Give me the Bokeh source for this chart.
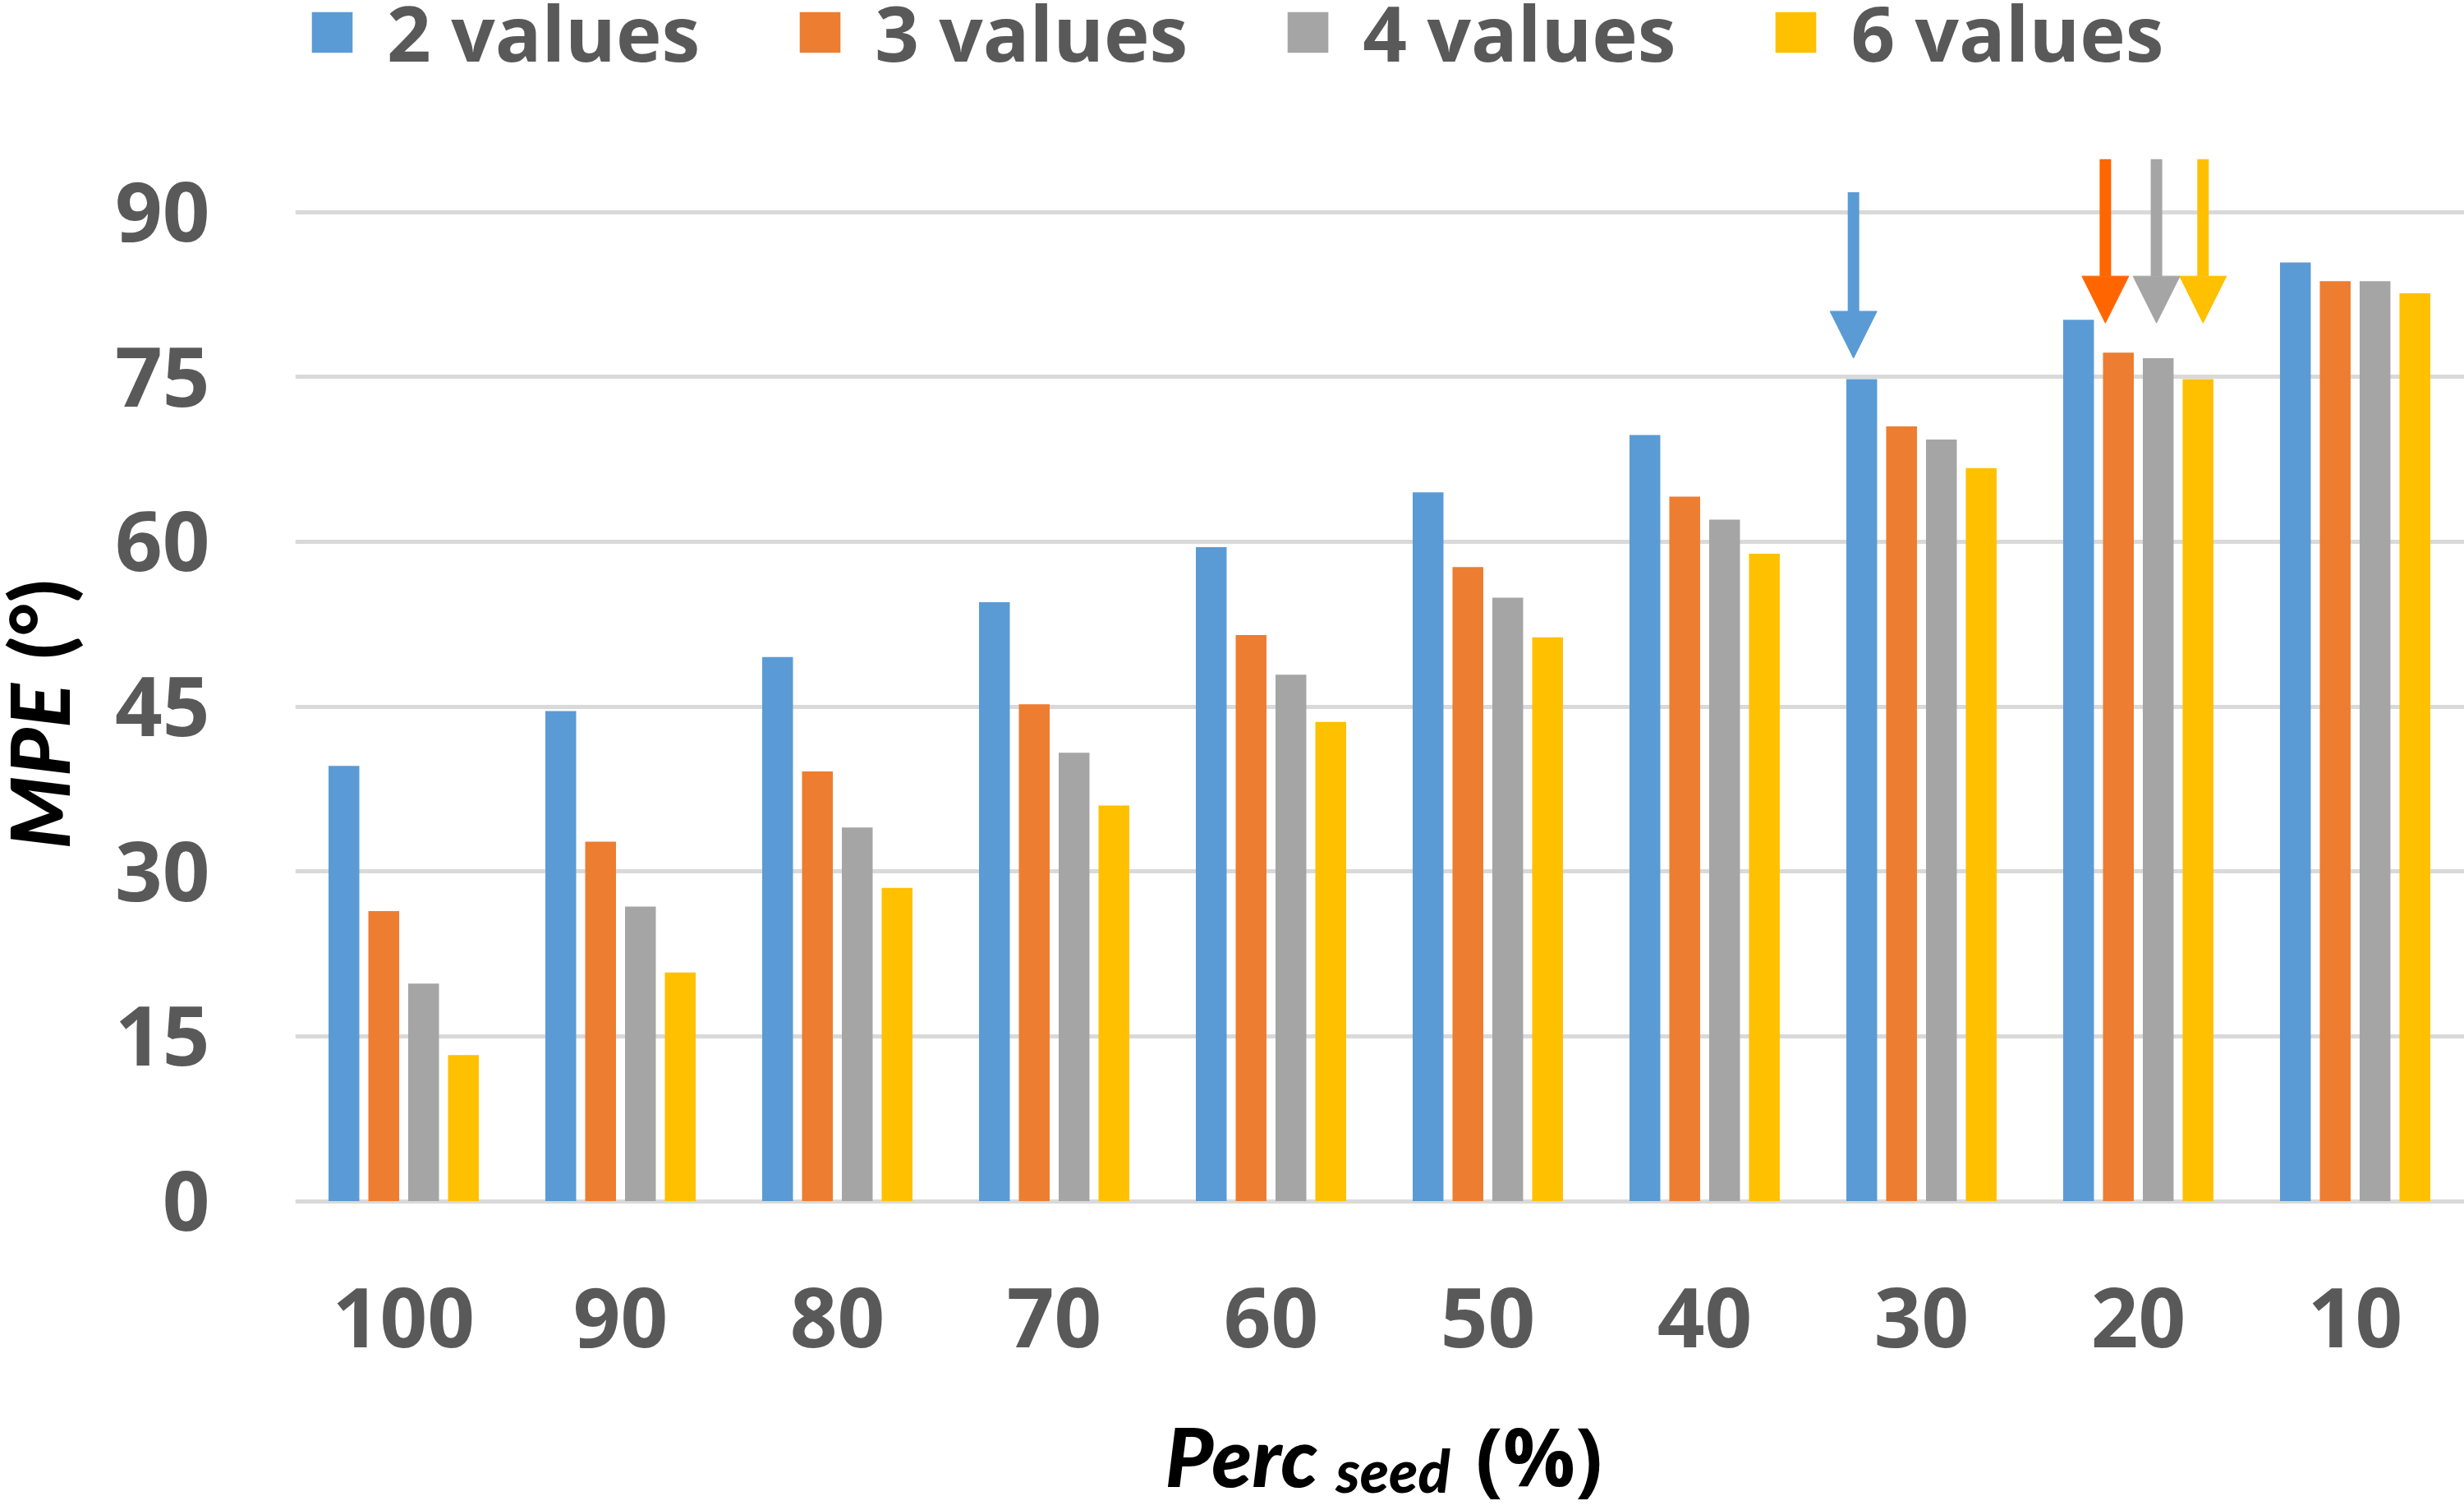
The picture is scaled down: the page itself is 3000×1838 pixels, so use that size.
import math
from bokeh.plotting import figure
from bokeh.layouts import row, column
from bokeh.models import Range1d, FixedTicker, Arrow, NormalHead
from bokeh.core.properties import value
from bokeh.embed import file_html
from bokeh.resources import INLINE

# ---- data ----
groups = ["100", "90", "80", "70", "60", "50", "40", "30", "20", "10"]
series = ["2 values", "3 values", "4 values", "6 values"]
v2 = [39.6, 44.6, 49.5, 54.5, 59.5, 64.5, 69.7, 74.8, 80.2, 85.4]
v3 = [26.4, 32.7, 39.1, 45.2, 51.5, 57.7, 64.1, 70.5, 77.2, 83.7]
v4 = [19.8, 26.8, 34.0, 40.8, 47.9, 54.9, 62.0, 69.3, 76.7, 83.7]
v6 = [13.3, 20.8, 28.5, 36.0, 43.6, 51.3, 58.9, 66.7, 74.8, 82.6]
colors = ["#5B9BD5", "#ED7D31", "#A5A5A5", "#FFC000"]
y_ticks = [0, 15, 30, 45, 60, 75, 90]

# highlighted arrows (group, series index, start value, tip value)
arrow_group = ["30", "20", "20", "20"]
arrow_series = [0, 1, 2, 3]
arrow_top = [91.8, 94.8, 94.8, 94.8]
arrow_tip = [76.7, 79.9, 79.9, 79.9]
arrow_colors = ["#5B9BD5", "#FF6600", "#A5A5A5", "#FFC000"]
arrow_shift = [-0.038, -0.06, -0.008, 0.023]

values = [v2, v3, v4, v6]

# ---- layout constants ----
STEP = 0.1837
BAR_W = 0.142
TICK_COLOR = "#595959"
FONT = "Open Sans"
HEAVY = "'Lato Heavy', 'Lato Black', Lato"
TOTAL_W = 3000
TOP_H = 1700
BOTTOM_H = 138
LEFT_W = 110
FRAME_BOTTOM = 226


def bare(fig):
    fig.outline_line_color = None
    fig.grid.visible = False
    return fig


# ---- narrow strip with the rotated y-axis title ----
left = bare(figure(width=LEFT_W, height=TOP_H, output_backend="svg", toolbar_location=None,
                   title=None, x_axis_location=None, y_axis_location=None,
                   x_range=Range1d(0, LEFT_W), y_range=Range1d(0, TOP_H - FRAME_BOTTOM),
                   min_border_left=0, min_border_right=0, min_border_top=0,
                   min_border_bottom=FRAME_BOTTOM))
left.text(x=[45], y=[441], text=["MPE"], angle=math.pi / 2, text_font=value(HEAVY),
          text_font_style="italic", text_font_size="100px", text_color="black",
          text_align="left", text_baseline="alphabetic")
left.text(x=[45], y=[672], text=["(°)"], angle=math.pi / 2, text_font=value(HEAVY),
          text_font_style="normal", text_font_size="100px", text_color="black",
          text_align="left", text_baseline="alphabetic")

# ---- main chart ----
p = figure(width=TOTAL_W - LEFT_W, height=TOP_H, output_backend="svg", toolbar_location=None,
           title=None,
           x_range=Range1d(-0.5, 9.504), y_range=Range1d(-0.93, 109.25),
           min_border_left=359 - LEFT_W, min_border_right=0, min_border_top=0,
           min_border_bottom=FRAME_BOTTOM)
p.outline_line_color = None

xs = list(range(len(groups)))
for k, (name, vals, col) in enumerate(zip(series, values, colors)):
    p.vbar(x=[x + (k - 1.5) * STEP for x in xs], top=vals, bottom=0, width=BAR_W,
           fill_color=col, line_color=None, legend_label=name)

for g, k, top, tip, col, sh in zip(arrow_group, arrow_series, arrow_top, arrow_tip,
                                   arrow_colors, arrow_shift):
    x = groups.index(g) + (k - 1.5) * STEP + sh
    p.add_layout(Arrow(end=NormalHead(size=57, fill_color=col, line_color=col, line_width=1),
                       x_start=x, y_start=top, x_end=x, y_end=tip,
                       line_color=col, line_width=14))

p.xaxis.ticker = FixedTicker(ticks=xs)
p.xaxis.major_label_overrides = {i: g for i, g in enumerate(groups)}
p.yaxis.ticker = FixedTicker(ticks=y_ticks)
p.ygrid.ticker = FixedTicker(ticks=y_ticks)
p.xgrid.visible = False
p.ygrid.grid_line_color = "#D9D9D9"
p.ygrid.grid_line_width = 5
for ax in (p.xaxis, p.yaxis):
    ax.axis_line_color = None
    ax.major_tick_line_color = None
    ax.minor_tick_line_color = None
    ax.major_tick_out = 0
    ax.major_label_text_font = FONT
    ax.major_label_text_font_style = "bold"
    ax.major_label_text_font_size = "101px"
    ax.major_label_text_color = TICK_COLOR
p.yaxis.major_label_standoff = 104
p.xaxis.major_label_standoff = 93

lg = p.legend[0]
lg.orientation = "horizontal"
lg.location = (14, 1371)
lg.glyph_width = 62
lg.glyph_height = 62
lg.label_standoff = 36
lg.label_width = 380
lg.spacing = 115
lg.padding = 0
lg.margin = 0
lg.border_line_color = None
lg.background_fill_alpha = 0
lg.label_text_font = FONT
lg.label_text_font_style = "bold"
lg.label_text_font_size = "94px"
lg.label_text_color = TICK_COLOR

# ---- strip below with the x-axis title (subscript) ----
bot = bare(figure(width=TOTAL_W, height=BOTTOM_H, output_backend="svg", toolbar_location=None,
                  title=None, x_range=Range1d(0, TOTAL_W), y_range=Range1d(0, BOTTOM_H),
                  x_axis_location=None, y_axis_location=None,
                  min_border_left=0, min_border_right=0, min_border_top=0,
                  min_border_bottom=0))
bot.text(x=[1418], y=[68], text=["Perc"], text_font=value(HEAVY), text_font_style="italic",
         text_font_size="100px", text_color="black", text_align="left",
         text_baseline="alphabetic")
bot.text(x=[1626], y=[50], text=["seed"], text_font=value(HEAVY), text_font_style="italic",
         text_font_size="72px", text_color="black", text_align="left",
         text_baseline="alphabetic")
bot.text(x=[1796], y=[68], text=["(%)"], text_font=value(FONT), text_font_style="bold",
         text_font_size="98px", text_color="black", text_align="left",
         text_baseline="alphabetic")

open("out.html", "w").write(file_html(column(row(left, p), bot), INLINE))
